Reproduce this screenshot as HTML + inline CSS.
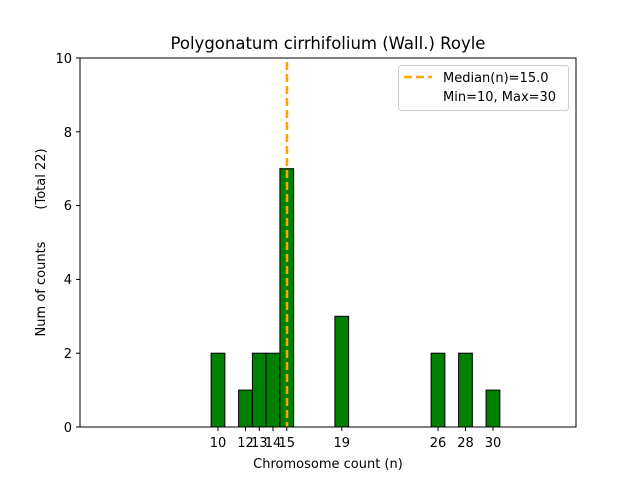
<!DOCTYPE html>
<html><head><style>body{margin:0;background:#fff}svg{display:block}</style></head><body>
<svg width="640" height="480" xmlns="http://www.w3.org/2000/svg" font-family="DejaVu Sans, Liberation Sans, sans-serif">
<rect width="640" height="480" fill="#fff"/>
<line x1="80" y1="427" x2="541" y2="427" stroke="#bbb" stroke-width="1"/>
<g fill="#008000" stroke="#000" stroke-width="1">
<rect x="211.1" y="353.2" width="13.75" height="73.8"/>
<rect x="238.6" y="390.1" width="13.75" height="36.9"/>
<rect x="252.4" y="353.2" width="13.75" height="73.8"/>
<rect x="266.1" y="353.2" width="13.75" height="73.8"/>
<rect x="279.9" y="168.7" width="13.75" height="258.3"/>
<rect x="334.9" y="316.3" width="13.75" height="110.7"/>
<rect x="431.1" y="353.2" width="13.75" height="73.8"/>
<rect x="458.6" y="353.2" width="13.75" height="73.8"/>
<rect x="486.1" y="390.1" width="13.75" height="36.9"/>
</g>
<line x1="287" y1="62" x2="287" y2="427" stroke="#FFA500" stroke-width="2.5" stroke-dasharray="8,4"/>
<rect x="80" y="58" width="496" height="369" fill="none" stroke="#000" stroke-width="1"/>
<g stroke="#000" stroke-width="1">
<line x1="218" y1="427" x2="218" y2="431"/><line x1="245.5" y1="427" x2="245.5" y2="431"/>
<line x1="259.3" y1="427" x2="259.3" y2="431"/><line x1="273" y1="427" x2="273" y2="431"/>
<line x1="286.8" y1="427" x2="286.8" y2="431"/><line x1="341.8" y1="427" x2="341.8" y2="431"/>
<line x1="438" y1="427" x2="438" y2="431"/><line x1="465.5" y1="427" x2="465.5" y2="431"/>
<line x1="493" y1="427" x2="493" y2="431"/>
<line x1="76" y1="427" x2="80" y2="427"/><line x1="76" y1="353.2" x2="80" y2="353.2"/>
<line x1="76" y1="279.4" x2="80" y2="279.4"/><line x1="76" y1="205.6" x2="80" y2="205.6"/>
<line x1="76" y1="131.8" x2="80" y2="131.8"/><line x1="76" y1="58" x2="80" y2="58"/>
</g>
<g font-size="13" fill="#000" text-anchor="middle">
<text x="218" y="447">10</text><text x="245.5" y="447">12</text><text x="259.3" y="447">13</text>
<text x="273" y="447">14</text><text x="286.8" y="447">15</text><text x="341.8" y="447">19</text>
<text x="438" y="447">26</text><text x="465.5" y="447">28</text><text x="493" y="447">30</text>
<text x="328" y="468">Chromosome count (n)</text>
<text x="328" y="49" font-size="16.5">Polygonatum cirrhifolium (Wall.) Royle</text>
</g>
<g font-size="13" fill="#000" text-anchor="end">
<text x="72" y="432">0</text><text x="72" y="358">2</text><text x="72" y="284">4</text>
<text x="72" y="210">6</text><text x="72" y="137">8</text><text x="72" y="63">10</text>
</g>
<text transform="translate(45,289) rotate(-90)" font-size="13" text-anchor="middle">Num of counts</text>
<text transform="translate(45,179) rotate(-90)" font-size="13" text-anchor="middle">(Total 22)</text>
<rect x="398.5" y="65.5" width="170" height="45" rx="3" fill="#fff" stroke="#ccc"/>
<line x1="404" y1="77" x2="432" y2="77" stroke="#FFA500" stroke-width="2.5" stroke-dasharray="8,4"/>
<g font-size="13" fill="#000"><text x="443" y="82">Median(n)=15.0</text><text x="443" y="101">Min=10, Max=30</text></g>
</svg>
</body></html>
